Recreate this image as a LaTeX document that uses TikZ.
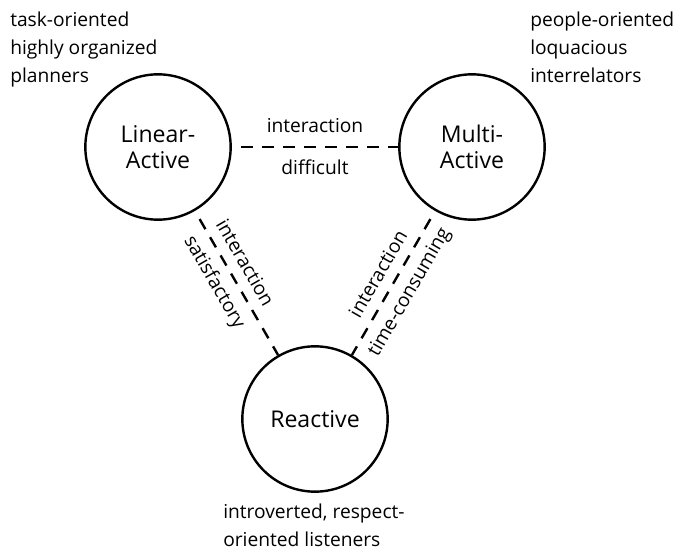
\documentclass[tikz,border=0pt]{standalone}
\usepackage{fontspec}
\setmainfont{Open Sans}

\tikzset{
  actor/.style={draw, circle, line width=1.8pt, minimum size=109pt, inner sep=0pt,
    align=center, font=\fontsize{17.3}{20}\selectfont},
  link/.style={line width=1.8pt, dash pattern=on 8.75pt off 7pt, dash phase=8.75pt},
  tag/.style={sloped, font=\fontsize{14.4}{21}\selectfont},
  note/.style={inner sep=0pt, align=left, anchor=base west, font=\fontsize{14.4}{21}\selectfont}
}

\begin{document}
\begin{tikzpicture}[x=0.75pt,y=-0.75pt]
\useasboundingbox (0,0) rectangle (675,549);
\foreach \name/\where/\txt in {la/{(158,147)}/{Linear-\\Active},ma/{(472,147)}/{Multi-\\Active},re/{(315,419)}/{Reactive}}{
  \node[actor] (\name) at \where {\txt};
}
\draw[link] (la) -- node[tag, above=6.5pt] (ld1) {interaction} node[tag, below=5pt] (ld2) {difficult} (ma);
\draw[link] (la) -- node[tag, pos=0.42, above=4pt] (ls1) {interaction} node[tag, pos=0.43, below=3pt] (ls2) {satisfactory} (re);
\draw[link] (ma) -- node[tag, above=4pt] (lt1) {interaction} node[tag, below=3pt] (lt2) {time-consuming} (re);
\node[note] (lanote) at (10,83) {task-oriented\\highly organized\\planners};
\node[note] (manote) at (530,83) {people-oriented\\loquacious\\interrelators};
\node[note] (renote) at (223,546) {introverted, respect-\\oriented listeners};
\end{tikzpicture}
\end{document}
